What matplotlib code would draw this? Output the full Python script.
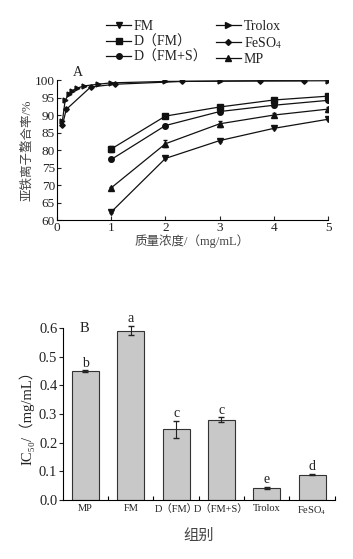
import matplotlib
matplotlib.use("Agg")
import matplotlib.pyplot as plt
from matplotlib.lines import Line2D
import numpy as np

plt.rcParams['font.family'] = ['Liberation Serif', 'Noto Sans CJK SC', 'DejaVu Sans']
plt.rcParams['mathtext.fontset'] = 'stix'

# 图A 数据
conc = [1, 2, 3, 4, 5]
fm = [62.3, 77.6, 82.7, 86.2, 88.8]
fm_err = [0.3, 0.3, 0.3, 0.3, 0.3]
d_fm = [80.3, 89.7, 92.3, 94.3, 95.4]
d_fm_err = [0.8, 0.3, 0.4, 0.3, 0.4]
d_fms = [77.3, 87.0, 91.0, 92.8, 94.2]
d_fms_err = [0.3, 0.3, 0.3, 0.4, 0.3]
mp = [69.2, 81.8, 87.5, 90.0, 91.7]
mp_err = [0.3, 1.0, 0.8, 0.5, 0.7]

trolox_x = [0.1, 0.15, 0.22, 0.28, 0.36, 0.49, 0.75, 1.0, 2.0, 3.0, 5.0]
trolox_y = [88.3, 94.2, 96.1, 97.0, 97.6, 98.3, 98.8, 99.2, 99.6, 99.7, 99.8]
feso4_x = [0.1, 0.17, 0.62, 1.07, 2.3, 3.75, 4.55]
feso4_y = [87.1, 91.6, 98.0, 98.8, 99.6, 99.8, 99.8]

# 图B 数据
groups = ['MP', 'FM', 'D（FM）', 'D（FM+S）', 'Trolox', 'FeSO$_4$']
ic50 = [0.449, 0.590, 0.247, 0.280, 0.042, 0.089]
ic50_err = [0.003, 0.016, 0.030, 0.008, 0.004, 0.002]
letters = ['b', 'a', 'c', 'c', 'e', 'd']

fig = plt.figure(figsize=(3.53, 5.59), dpi=100)
tc = '#222222'
lc = '#111111'

# ---- A ----
ax = fig.add_axes([0.1615, 0.6064, 0.768, 0.2504])
kw = dict(color=lc, lw=0.9, capsize=1.5, elinewidth=0.7)
ax.errorbar(conc, fm, yerr=fm_err, marker='v', ms=4, **kw)
ax.errorbar(conc, d_fm, yerr=d_fm_err, marker='s', ms=4.5, **kw)
ax.errorbar(conc, d_fms, yerr=d_fms_err, marker='o', ms=4, **kw)
ax.plot(trolox_x, trolox_y, marker='>', ms=3.5, color=lc, lw=0.9)
ax.plot(feso4_x, feso4_y, marker='D', ms=2.8, color=lc, lw=0.9)
ax.errorbar(conc, mp, yerr=mp_err, marker='^', ms=4, **kw)
ax.set_xlim(0, 5)
ax.set_ylim(60, 100)
ax.set_yticks(np.arange(60, 101, 5))
ax.set_xticks([0, 1, 2, 3, 4, 5])
ax.spines['top'].set_visible(False)
ax.spines['right'].set_visible(False)
ax.tick_params(direction='in', length=3, width=0.8, labelsize=9.5, colors=tc, pad=1.5)
ax.set_xlabel('质量浓度/（mg/mL）', fontsize=9, color='#444444', labelpad=0)
ax.set_ylabel('亚铁离子螯合率/%', fontsize=9, color='#444444', labelpad=1)
ax.text(0.3, 100.3, 'A', fontsize=10, color=tc, va='bottom')

mk = ['v', 's', 'o', '>', 'D', '^']
ms = [4, 4.5, 4, 4, 3, 4]
handles = [Line2D([], [], color=lc, lw=0.9, marker=m, ms=s) for m, s in zip(mk, ms)]
fig.legend(handles,
           ['FM', 'D（FM）', 'D（FM+S）', 'Trolox', 'FeSO$_4$', 'MP'],
           ncol=2, loc='center', bbox_to_anchor=(0.55, 0.923), frameon=False,
           fontsize=10, handlelength=1.8, handletextpad=0.2, columnspacing=0.6,
           labelspacing=0.15, borderaxespad=0, labelcolor=tc)

# ---- B ----
bx = fig.add_axes([0.178, 0.1055, 0.7705, 0.3077])
pos = np.arange(len(groups))
bx.bar(pos, ic50, width=0.6, color='#c8c8c8', edgecolor='#333333', lw=0.8)
bx.errorbar(pos, ic50, yerr=ic50_err, fmt='none', ecolor='#222222',
            capsize=2.5, elinewidth=0.8, clip_on=False)
for p, v, e, t in zip(pos, ic50, ic50_err, letters):
    bx.text(p, v + e + 0.003, t, ha='center', va='bottom', fontsize=10, color=tc)
bx.set_xlim(-0.5, 5.5)
bx.set_ylim(0, 0.6)
bx.set_yticks(np.arange(0, 0.61, 0.1))
bx.set_yticklabels(['%.1f' % v for v in np.arange(0, 0.61, 0.1)])
bx.set_xticks(pos)
bx.set_xticklabels(groups, fontsize=7.5, color=tc)
bx.set_xticks(pos + 0.5, minor=True)
bx.tick_params(axis='x', which='major', length=0, pad=3)
bx.tick_params(axis='x', which='minor', direction='in', length=3, width=0.8)
bx.tick_params(axis='y', direction='out', length=3, width=0.8, labelsize=10.5, colors=tc, pad=1)
bx.spines['top'].set_visible(False)
bx.spines['right'].set_visible(False)
bx.text(-0.12, 0.6, 'B', fontsize=10.5, color=tc, va='center')
bx.set_ylabel('IC₅₀/（mg/mL）', fontsize=10.5, color=tc, labelpad=3)
bx.set_xlabel('组别', fontsize=11, color='#444444', labelpad=9)

fig.savefig('out.png', dpi=100)
